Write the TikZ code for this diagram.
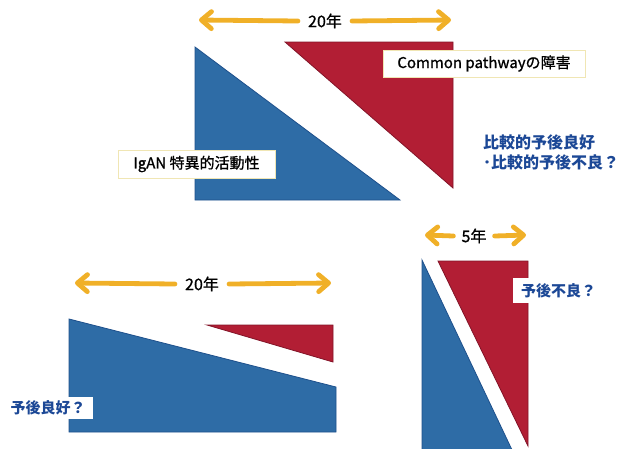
\documentclass[tikz,border=0pt]{standalone}
\usepackage{fontspec}
\setmainfont{Noto Sans CJK JP}
\newfontfamily\medjp[FakeBold=1]{Noto Sans CJK JP}
\usetikzlibrary{arrows.meta}
\definecolor{tblue}{RGB}{46,108,166}
\definecolor{tblueD}{RGB}{30,80,140}
\definecolor{tred}{RGB}{178,30,52}
\definecolor{tredD}{RGB}{130,20,40}
\definecolor{txtblue}{RGB}{28,72,150}
\definecolor{arrowc}{RGB}{240,176,40}
\definecolor{boxedge}{RGB}{240,230,180}
\tikzset{
  bluetri/.style={fill=tblue, draw=tblueD, line width=0.8pt, line join=miter},
  redtri/.style={fill=tred, draw=tredD, line width=0.8pt, line join=miter},
  yarrow/.style={draw=arrowc, line width=4.8pt, line cap=round,
    -{Straight Barb[length=10pt,width=17pt,round]}},
  yearlbl/.style={font=\medjp\fontsize{16}{18}\selectfont, text=black, inner sep=0pt},
  lblbox/.style={fill=white, draw=boxedge, line width=0.8pt,
    font=\medjp\fontsize{15}{18}\selectfont, text=black, inner sep=0pt},
  bluetxt/.style={font=\bfseries\fontsize{16}{20}\selectfont, text=txtblue, inner sep=0pt}
}
\begin{document}
\begin{tikzpicture}[x=1pt,y=-1pt]
\useasboundingbox (0,0) rectangle (619,448);
\clip (0,0) rectangle (619,448);

% ---------- top group ----------
\coordinate (tAL) at (199,20);
\coordinate (tAR) at (451,20);
\node[yearlbl] (tY) at (325,21) {20年};
\draw[yarrow] ([xshift=-10pt]tY.west) -- (tAL);
\draw[yarrow] ([xshift=10pt]tY.east) -- (tAR);

\path[bluetri] (195,47) -- (195,200) -- (400,200) -- cycle;
\path[redtri] (285,42) -- (453,42) -- (453,188) -- cycle;

\node[lblbox, minimum width=202pt, minimum height=27pt] (cp) at (484,63.5) {Common pathwayの障害};
\node[lblbox, minimum width=157pt, minimum height=28pt] (ig) at (196.5,164) {IgAN 特異的活動性};

\node[bluetxt, anchor=north west, align=left] (cmp) at (483,135)
  {比較的予後良好\\･比較的予後不良？};

% ---------- bottom right group ----------
\coordinate (rAL) at (425,235);
\coordinate (rAR) at (526,235);
\node[yearlbl] (rY) at (474,236) {5年};
\draw[yarrow] ([xshift=-8pt]rY.west) -- (rAL);
\draw[yarrow] ([xshift=8pt]rY.east) -- (rAR);

\path[bluetri] (422,260) -- (422,452) -- (513,452) -- cycle;
\path[redtri] (438,261) -- (528,261) -- (528,446) -- cycle;

\node[fill=white, minimum width=16pt, minimum height=25pt, inner sep=0pt] (pw) at (521,290.5) {};
\node[bluetxt, font=\bfseries\fontsize{15}{18}\selectfont, anchor=west] (poor) at (521,291) {予後不良？};

% ---------- bottom left group ----------
\coordinate (lAL) at (75,283);
\coordinate (lAR) at (331,283);
\node[yearlbl] (lY) at (202,284) {20年};
\draw[yarrow] ([xshift=-10pt]lY.west) -- (lAL);
\draw[yarrow] ([xshift=10pt]lY.east) -- (lAR);

\path[bluetri] (69,319) -- (336,387) -- (336,432) -- (69,432) -- cycle;
\path[redtri] (207,325) -- (333,325) -- (333,362) -- cycle;

\node[fill=white, minimum width=93pt, minimum height=22pt, inner sep=0pt] (gw) at (46.5,408) {};
\node[bluetxt, font=\bfseries\fontsize{15}{18}\selectfont] (good) at (48,408) {予後良好？};
\end{tikzpicture}
\end{document}
